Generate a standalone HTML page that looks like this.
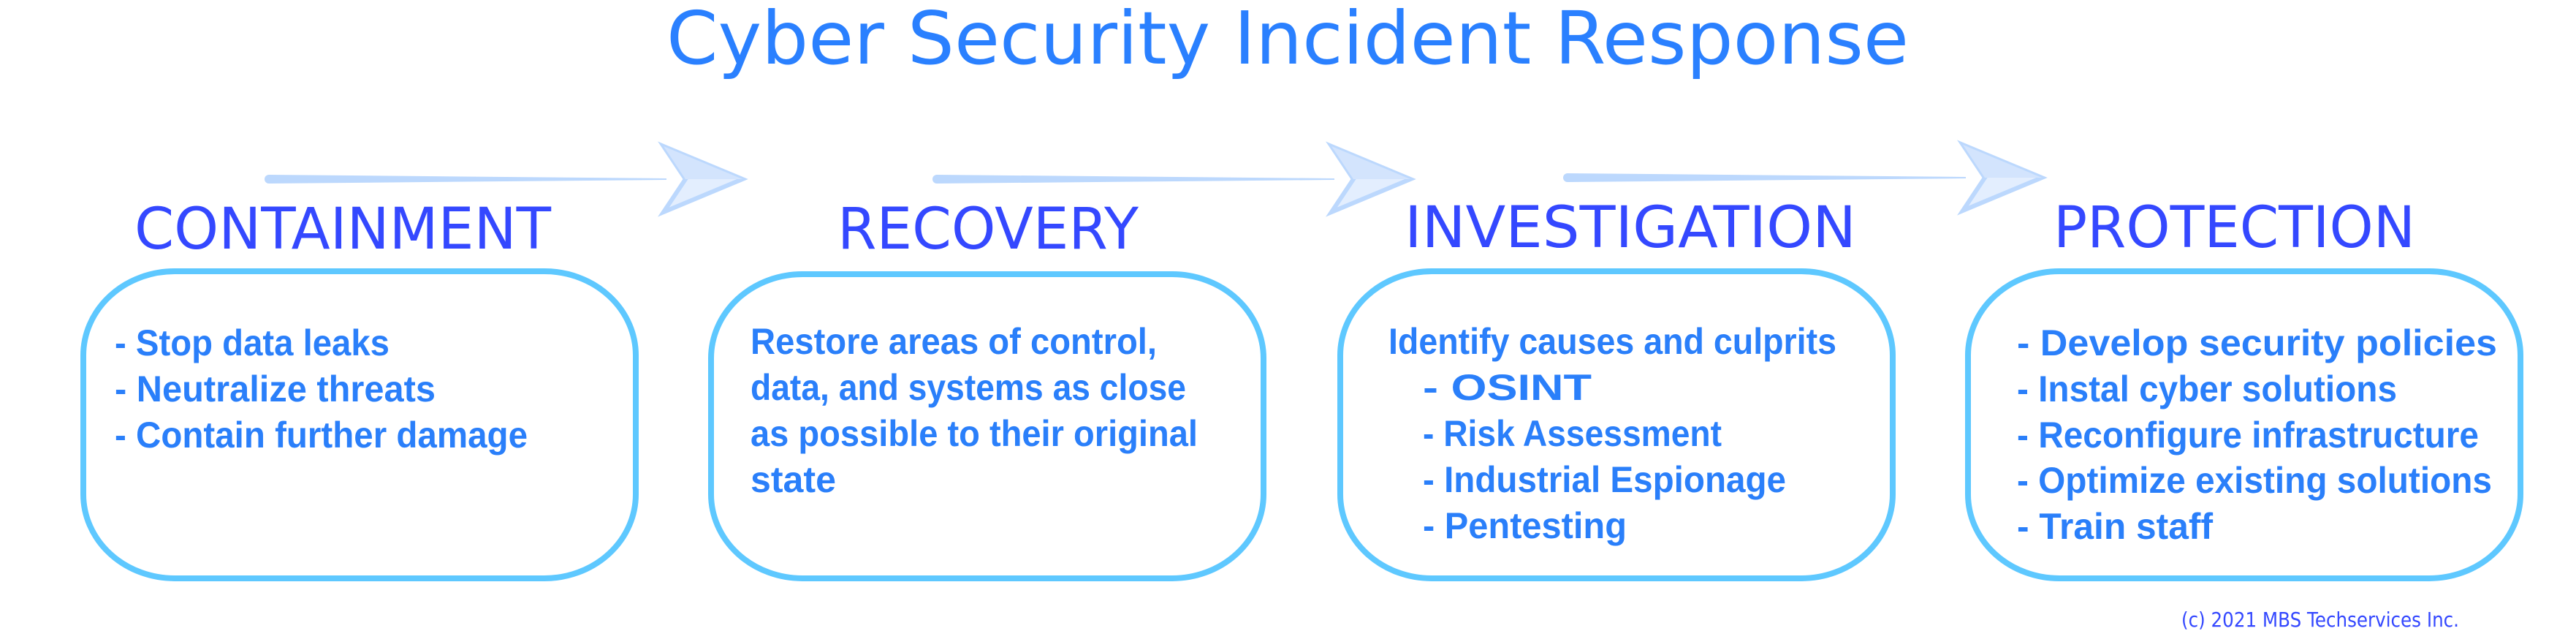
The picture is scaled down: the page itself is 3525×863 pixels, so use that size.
<!DOCTYPE html>
<html><head><meta charset="utf-8"><style>
html,body{margin:0;padding:0;background:#fff;width:3525px;height:863px;overflow:hidden}
svg{display:block}
.b{font-family:"Liberation Sans",sans-serif;font-weight:bold;font-size:50px;fill:#2a7ffa}
.h{font-family:"DejaVu Sans","Liberation Sans",sans-serif;font-size:78px;fill:#3448ff}
</style></head><body>
<svg width="3525" height="863" viewBox="0 0 3525 863" xmlns="http://www.w3.org/2000/svg">
<defs>
<g id="ah">
<polygon points="0,-45 108,0 0,45 30,0" fill="#e3eefe" stroke="#bcd8fd" stroke-width="6" stroke-linejoin="miter"/>
<polygon points="0,-45 108,0 30,0" fill="#d3e4fd"/>
</g>
</defs>
<text x="1762" y="87" text-anchor="middle" font-family="DejaVu Sans,Liberation Sans,sans-serif" font-size="100" fill="#2a80ff" textLength="1700" lengthAdjust="spacingAndGlyphs">Cyber Security Incident Response</text>

<polygon points="368,239 912,244 912,246 368,251" fill="#bcd8fd"/>
<circle cx="368" cy="245" r="6" fill="#bcd8fd"/>
<use href="#ah" x="908" y="245"/>
<polygon points="1282,239 1826,244 1826,246 1282,251" fill="#bcd8fd"/>
<circle cx="1282" cy="245" r="6" fill="#bcd8fd"/>
<use href="#ah" x="1822" y="245"/>
<polygon points="2145,237 2690,242 2690,244 2145,249" fill="#bcd8fd"/>
<circle cx="2145" cy="243" r="6" fill="#bcd8fd"/>
<use href="#ah" x="2686" y="243"/>

<text class="h" x="184" y="340" textLength="570" lengthAdjust="spacingAndGlyphs">CONTAINMENT</text>
<text class="h" x="1146" y="340" textLength="412" lengthAdjust="spacingAndGlyphs">RECOVERY</text>
<text class="h" x="1922" y="338" textLength="618" lengthAdjust="spacingAndGlyphs">INVESTIGATION</text>
<text class="h" x="2810" y="338" textLength="495" lengthAdjust="spacingAndGlyphs">PROTECTION</text>

<g fill="#fff" stroke="#5ec8ff" stroke-width="8">
<rect x="114" y="371" width="756" height="420" rx="125" ry="115"/>
<rect x="973" y="375" width="756" height="416" rx="125" ry="115"/>
<rect x="1834" y="371" width="756" height="420" rx="125" ry="115"/>
<rect x="2693" y="371" width="756" height="420" rx="125" ry="115"/>
</g>

<text class="b" x="157" y="486" textLength="376" lengthAdjust="spacingAndGlyphs">- Stop data leaks</text>
<text class="b" x="157" y="549" textLength="439" lengthAdjust="spacingAndGlyphs">- Neutralize threats</text>
<text class="b" x="157" y="612" textLength="565" lengthAdjust="spacingAndGlyphs">- Contain further damage</text>

<text class="b" x="1027" y="484" textLength="556" lengthAdjust="spacingAndGlyphs">Restore areas of control,</text>
<text class="b" x="1027" y="547" textLength="596" lengthAdjust="spacingAndGlyphs">data, and systems as close</text>
<text class="b" x="1027" y="610" textLength="612" lengthAdjust="spacingAndGlyphs">as possible to their original</text>
<text class="b" x="1027" y="673" textLength="117" lengthAdjust="spacingAndGlyphs">state</text>

<text class="b" x="1900" y="484" textLength="613" lengthAdjust="spacingAndGlyphs">Identify causes and culprits</text>
<text class="b" x="1947" y="547" textLength="231" lengthAdjust="spacingAndGlyphs">- OSINT</text>
<text class="b" x="1947" y="610" textLength="409" lengthAdjust="spacingAndGlyphs">- Risk Assessment</text>
<text class="b" x="1947" y="673" textLength="497" lengthAdjust="spacingAndGlyphs">- Industrial Espionage</text>
<text class="b" x="1947" y="736" textLength="279" lengthAdjust="spacingAndGlyphs">- Pentesting</text>

<text class="b" x="2760" y="486" textLength="657" lengthAdjust="spacingAndGlyphs">- Develop security policies</text>
<text class="b" x="2760" y="549" textLength="520" lengthAdjust="spacingAndGlyphs">- Instal cyber solutions</text>
<text class="b" x="2760" y="612" textLength="632" lengthAdjust="spacingAndGlyphs">- Reconfigure infrastructure</text>
<text class="b" x="2760" y="674" textLength="650" lengthAdjust="spacingAndGlyphs">- Optimize existing solutions</text>
<text class="b" x="2760" y="737" textLength="268" lengthAdjust="spacingAndGlyphs">- Train staff</text>

<text x="2985" y="857" font-family="DejaVu Sans,Liberation Sans,sans-serif" font-size="28" fill="#3448ff" textLength="380" lengthAdjust="spacingAndGlyphs">(c) 2021 MBS Techservices Inc.</text>
</svg>
</body></html>
